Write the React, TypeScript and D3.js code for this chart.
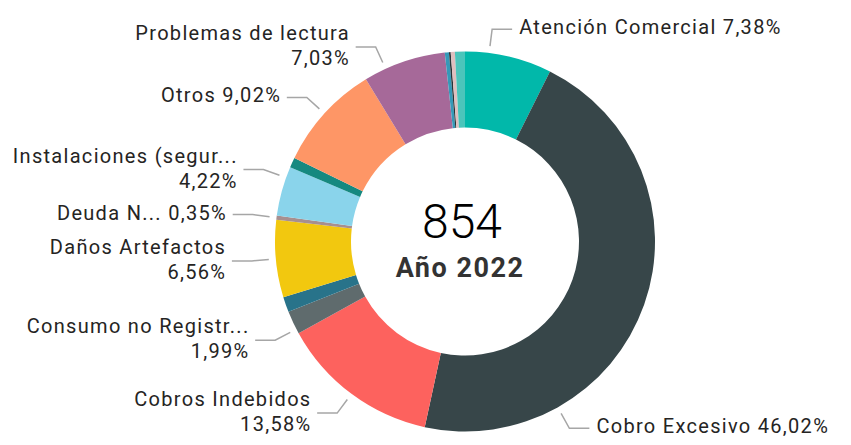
import React from "react";
import * as d3 from "d3";

// categorías en el orden del gráfico (sentido horario desde las 12)
const categories = [
  "Atención Comercial",
  "Cobro Excesivo",
  "Cobros Indebidos",
  "Consumo no Registr...",
  "Categoría sin etiqueta 1",
  "Daños Artefactos",
  "Deuda N...",
  "Instalaciones (segur...",
  "Categoría sin etiqueta 2",
  "Otros",
  "Problemas de lectura",
  "Categoría sin etiqueta 3",
  "Categoría sin etiqueta 4",
  "Categoría sin etiqueta 5",
  "Categoría sin etiqueta 6",
];
const shares = [7.38, 46.02, 13.58, 1.99, 1.3, 6.56, 0.35, 4.22, 0.85, 9.02, 7.03, 0.35, 0.15, 0.35, 0.85];
const colors = [
  "#01B8AA", "#374649", "#FD625E", "#5F6B6D", "#28738A", "#F2C80F", "#A78F8F", "#8AD4EB",
  "#168980", "#FE9666", "#A66999", "#3599B8", "#293537", "#DFBFBF", "#4AC5BB",
];
const totalCount = 854;
const yearLabel = "Año 2022";

// etiquetas visibles: nombre -> en dos líneas?
const labelled = new Map<string, boolean>([
  ["Atención Comercial", false],
  ["Cobro Excesivo", false],
  ["Cobros Indebidos", true],
  ["Consumo no Registr...", true],
  ["Daños Artefactos", true],
  ["Deuda N...", false],
  ["Instalaciones (segur...", true],
  ["Otros", false],
  ["Problemas de lectura", true],
]);
// corrimiento de la línea guía (grados) para evitar choques, como hace Power BI
const labelShift: Record<string, number> = {
  "Atención Comercial": -6,
  "Cobro Excesivo": 41.4,
  "Consumo no Registr...": -2.2,
  "Instalaciones (segur...": 4.2,
  "Problemas de lectura": -5.9,
};

const W = 851;
const H = 445;
const cx = 465;
const cy = 241.5;
const rOuter = 190;
const rInner = 114;
const labelSpacing = 1.3;

const pct = d3
  .formatLocale({ decimal: ",", thousands: ".", grouping: [3], currency: ["", ""] })
  .format(".2f");

const font = "Roboto, 'Noto Sans', sans-serif";

const App = () => {
  const data = categories.map((c, i) => ({ name: c, value: shares[i], color: colors[i] }));
  const pie = d3
    .pie<{ name: string; value: number; color: string }>()
    .sort(null)
    .value((d) => d.value);
  const arcs = pie(data);
  const arc = d3
    .arc<d3.PieArcDatum<{ name: string; value: number; color: string }>>()
    .innerRadius(rInner)
    .outerRadius(rOuter);

  const pt = (a: number, r: number) => [r * Math.sin(a), -r * Math.cos(a)];

  return (
    <>
      <style>{"body{margin:0}"}</style>
      <svg width={W} height={H} style={{ display: "block" }}>
        <g transform={`translate(${cx},${cy})`}>
          {arcs.map((a) => (
            <path key={a.data.name} d={arc(a) || ""} fill={a.data.color} />
          ))}
          {arcs
            .filter((a) => labelled.has(a.data.name))
            .map((a) => {
              const name = a.data.name;
              const twoLine = labelled.get(name);
              const ang = (a.startAngle + a.endAngle) / 2 + ((labelShift[name] || 0) * Math.PI) / 180;
              const right = Math.sin(ang) >= 0;
              const [sx, sy] = pt(ang, rOuter + 7);
              const [ex, ey] = pt(ang, rOuter + 24);
              const hx = ex + (right ? 20 : -20);
              const tx = hx + (right ? 7 : -7 + labelSpacing);
              const p = `${pct(a.data.value)}%`;
              return (
                <g key={"l" + name}>
                  <polyline
                    points={`${sx},${sy} ${ex},${ey} ${hx},${ey}`}
                    fill="none"
                    stroke="#a6a6a6"
                    strokeWidth={1.5}
                  />
                  <text
                    x={tx}
                    textAnchor={right ? "start" : "end"}
                    fontFamily={font}
                    fontSize={20}
                    letterSpacing={labelSpacing}
                    fill="#252423"
                  >
                    {twoLine ? (
                      <>
                        <tspan x={tx} y={ey - 7}>
                          {name}
                        </tspan>
                        <tspan x={tx} y={ey + 18}>
                          {p}
                        </tspan>
                      </>
                    ) : (
                      <tspan x={tx} y={ey + 5}>
                        {`${name} ${p}`}
                      </tspan>
                    )}
                  </text>
                </g>
              );
            })}
          <text
            x={-3}
            y={-4}
            textAnchor="middle"
            fontFamily={font}
            fontWeight={300}
            fontSize={48}
            fill="#000"
          >
            {totalCount}
          </text>
          <text
            x={-5}
            y={35}
            textAnchor="middle"
            fontFamily={font}
            fontWeight={700}
            fontSize={27}
            letterSpacing={1.5}
            fill="#333"
          >
            {yearLabel}
          </text>
        </g>
      </svg>
    </>
  );
};

export default App;
